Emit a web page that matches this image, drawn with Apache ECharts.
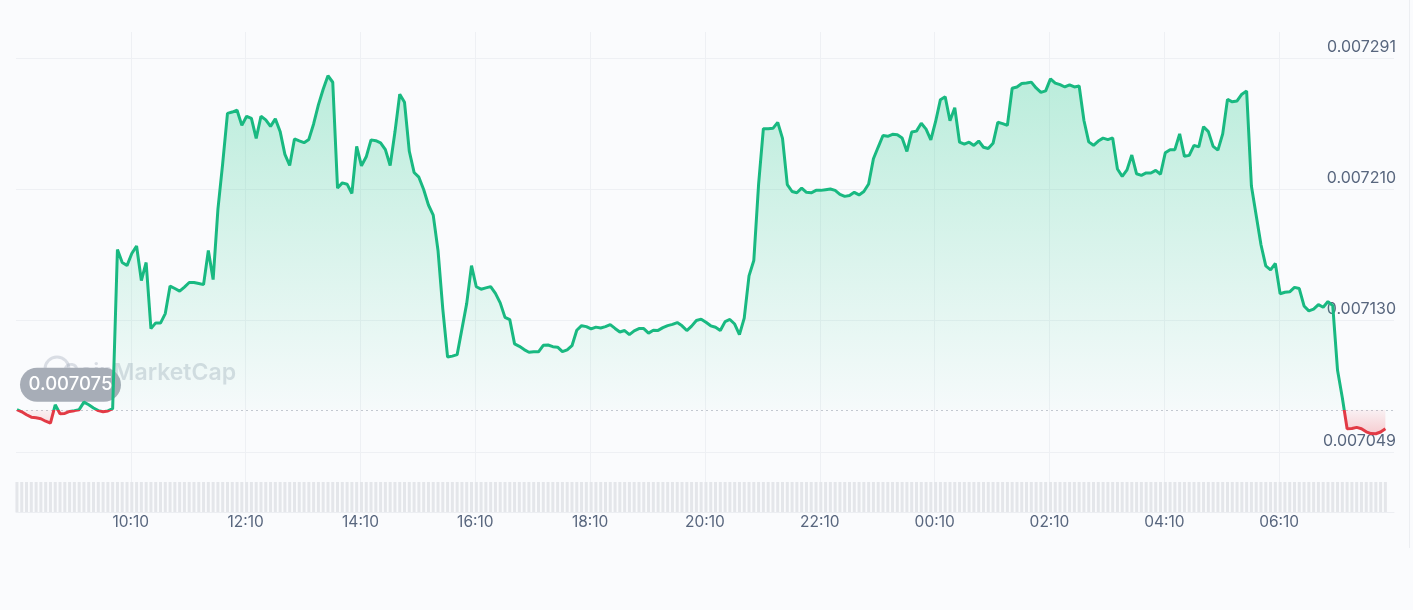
<!DOCTYPE html>
<html><head><meta charset="utf-8">
<script src="https://cdn.jsdelivr.net/npm/echarts@6/dist/echarts.min.js"></script>
<style>html,body{margin:0;padding:0;background:#fafbfd;}#c{width:1413px;height:610px;}</style>
</head><body><div id="c"></div>
<script>
// x tick labels: one every 120 minutes starting 08:10
const timeLabels = ['08:10','10:10','12:10','14:10','16:10','18:10','20:10','22:10','00:10','02:10','04:10','06:10','08:10'];
// y tick labels (right axis)
const priceTicks = ['0.007049','0.007130','0.007210','0.007291'];
// opening price (baseline)
const openPrice = 0.007075;
// sampling: minutes after 08:10, 5-minute steps
const startMinute = 1;
const stepMinutes = 5;
const prices = [
0.0070750,0.0070737,0.0070719,0.0070704,0.0070700,0.0070694,0.0070679,0.0070667,0.0070780,0.0070725,
0.0070727,0.0070739,0.0070744,0.0070750,0.0070796,0.0070780,0.0070760,0.0070744,0.0070737,0.0070742,
0.0070756,0.0071734,0.0071654,0.0071635,0.0071709,0.0071755,0.0071543,0.0071654,0.0071248,0.0071283,
0.0071282,0.0071340,0.0071509,0.0071494,0.0071478,0.0071503,0.0071531,0.0071531,0.0071525,0.0071518,
0.0071728,0.0071549,0.0071980,0.0072263,0.0072570,0.0072578,0.0072589,0.0072496,0.0072552,0.0072539,
0.0072416,0.0072552,0.0072530,0.0072490,0.0072536,0.0072459,0.0072318,0.0072250,0.0072413,0.0072401,
0.0072390,0.0072410,0.0072505,0.0072622,0.0072718,0.0072801,0.0072761,0.0072111,0.0072143,0.0072135,
0.0072078,0.0072367,0.0072248,0.0072303,0.0072407,0.0072402,0.0072389,0.0072347,0.0072250,0.0072455,
0.0072687,0.0072638,0.0072337,0.0072207,0.0072178,0.0072102,0.0072007,0.0071945,0.0071728,0.0071368,
0.0071073,0.0071079,0.0071088,0.0071246,0.0071403,0.0071635,0.0071505,0.0071490,0.0071498,0.0071506,
0.0071464,0.0071406,0.0071317,0.0071303,0.0071154,0.0071139,0.0071119,0.0071103,0.0071106,0.0071105,
0.0071145,0.0071147,0.0071137,0.0071134,0.0071106,0.0071117,0.0071143,0.0071238,0.0071266,0.0071260,
0.0071246,0.0071257,0.0071252,0.0071260,0.0071272,0.0071249,0.0071227,0.0071236,0.0071211,0.0071234,
0.0071248,0.0071248,0.0071220,0.0071238,0.0071237,0.0071254,0.0071266,0.0071274,0.0071285,0.0071265,
0.0071236,0.0071263,0.0071298,0.0071306,0.0071287,0.0071265,0.0071256,0.0071236,0.0071291,0.0071304,
0.0071276,0.0071211,0.0071312,0.0071572,0.0071666,0.0072134,0.0072476,0.0072476,0.0072478,0.0072515,
0.0072416,0.0072132,0.0072090,0.0072082,0.0072111,0.0072085,0.0072082,0.0072097,0.0072097,0.0072101,
0.0072105,0.0072097,0.0072072,0.0072060,0.0072065,0.0072085,0.0072069,0.0072090,0.0072136,0.0072291,
0.0072363,0.0072434,0.0072429,0.0072441,0.0072439,0.0072419,0.0072336,0.0072455,0.0072461,0.0072509,
0.0072473,0.0072407,0.0072520,0.0072654,0.0072672,0.0072525,0.0072604,0.0072393,0.0072381,0.0072393,
0.0072373,0.0072400,0.0072362,0.0072354,0.0072386,0.0072515,0.0072507,0.0072496,0.0072724,0.0072732,
0.0072753,0.0072756,0.0072762,0.0072726,0.0072699,0.0072708,0.0072782,0.0072756,0.0072746,0.0072732,
0.0072745,0.0072732,0.0072738,0.0072526,0.0072395,0.0072374,0.0072400,0.0072418,0.0072409,0.0072419,
0.0072228,0.0072183,0.0072223,0.0072314,0.0072199,0.0072189,0.0072204,0.0072204,0.0072220,0.0072196,
0.0072328,0.0072347,0.0072347,0.0072444,0.0072306,0.0072312,0.0072373,0.0072364,0.0072488,0.0072458,
0.0072367,0.0072344,0.0072444,0.0072656,0.0072641,0.0072646,0.0072688,0.0072707,0.0072124,0.0071942,
0.0071763,0.0071633,0.0071609,0.0071648,0.0071462,0.0071471,0.0071474,0.0071501,0.0071494,0.0071387,
0.0071357,0.0071368,0.0071395,0.0071379,0.0071414,0.0071389,0.0070992,0.0070823,0.0070633,0.0070634,
0.0070641,0.0070633,0.0070614,0.0070603,0.0070602,0.0070613,0.0070633
];
// volume strip (all bars drawn at full height in the picture)
const volumes = [
1,1,1,1,1,1,1,1,1,1,1,1,1,1,1,1,1,1,1,1,1,1,1,1,1,1,1,1,1,1,1,1,1,1,1,1,1,1,1,1,
1,1,1,1,1,1,1,1,1,1,1,1,1,1,1,1,1,1,1,1,1,1,1,1,1,1,1,1,1,1,1,1,1,1,1,1,1,1,1,1,
1,1,1,1,1,1,1,1,1,1,1,1,1,1,1,1,1,1,1,1,1,1,1,1,1,1,1,1,1,1,1,1,1,1,1,1,1,1,1,1,
1,1,1,1,1,1,1,1,1,1,1,1,1,1,1,1,1,1,1,1,1,1,1,1,1,1,1,1,1,1,1,1,1,1,1,1,1,1,1,1,
1,1,1,1,1,1,1,1,1,1,1,1,1,1,1,1,1,1,1,1,1,1,1,1,1,1,1,1,1,1,1,1,1,1,1,1,1,1,1,1,
1,1,1,1,1,1,1,1,1,1,1,1,1,1,1,1,1,1,1,1,1,1,1,1,1,1,1,1,1,1,1,1,1,1,1,1,1,1,1,1,
1,1,1,1,1,1,1,1,1,1,1,1,1,1,1,1,1,1,1,1,1,1,1,1,1,1,1,1,1,1,1,1,1,1,1,1,1,1,1,1,
1,1,1,1,1,1,1
];

const GREEN = '#19b981', RED = '#e23a45';
const priceData = prices.map((p, i) => [startMinute + i * stepMinutes, p]);
const volData = volumes.map((v, i) => [startMinute + i * stepMinutes, v]);
const yMin = +priceTicks[0], yMax = +priceTicks[priceTicks.length - 1];
const nearestTick = v => priceTicks.reduce((a, b) => Math.abs(+b - v) < Math.abs(+a - v) ? b : a);

const chart = echarts.init(document.getElementById('c'), null, {renderer: 'canvas'});
const option = {
  backgroundColor: '#fafbfd',
  animation: false,
  grid: [
    {left: 16, right: 19, top: 58, bottom: 158},
    {left: 16, right: 19, top: 32, bottom: 98}
  ],
  xAxis: [
    {type: 'value', gridIndex: 0, min: 0, max: 1440, show: false},
    {type: 'value', gridIndex: 1, min: 0, max: 1440, interval: 120,
     axisLine: {show: true, lineStyle: {color: '#eceef2'}},
     axisTick: {show: false},
     splitLine: {show: true, showMinLine: false, showMaxLine: false, lineStyle: {color: '#eef0f4'}},
     axisLabel: {color: '#58667e', fontSize: 15.5, fontFamily: 'Inter', margin: 2,
       showMinLabel: false, showMaxLabel: false,
       formatter: v => timeLabels[Math.round(v / 120)]}}
  ],
  yAxis: [
    {type: 'value', gridIndex: 0, position: 'right', min: yMin, max: yMax, interval: (yMax - yMin) / 3,
     axisLine: {show: false}, axisTick: {show: false},
     splitLine: {show: true, lineStyle: {color: '#eef0f4'}},
     axisLabel: {inside: true, margin: -2, verticalAlign: 'bottom', padding: [0, 0, 3, 0],
       color: '#58667e', fontSize: 16, fontFamily: 'Inter', formatter: v => nearestTick(v)}},
    {type: 'value', gridIndex: 1, min: 0, max: 16, show: false}
  ],
  series: [
    {type: 'line', xAxisIndex: 0, yAxisIndex: 0, data: priceData, symbol: 'none', showSymbol: false,
     lineStyle: {width: 3, color: GREEN}, z: 3,
     areaStyle: {origin: openPrice, color: 'rgba(22,199,132,0.15)'}},
    {type: 'bar', xAxisIndex: 1, yAxisIndex: 1, data: volData, barWidth: 3,
     itemStyle: {color: '#e4e6ea'}, z: 1, silent: true}
  ]
};
chart.setOption(option);

const yBase = chart.convertToPixel({yAxisIndex: 0}, openPrice);
const yHigh = chart.convertToPixel({yAxisIndex: 0}, Math.max(...prices));
const yLow = chart.convertToPixel({yAxisIndex: 0}, Math.min(...prices));
const off = (yBase - yHigh) / (yLow - yHigh);
const xLeft = chart.convertToPixel({xAxisIndex: 0}, 0);
const xRight = chart.convertToPixel({xAxisIndex: 0}, 1440);

chart.setOption({
  series: [{
    lineStyle: {width: 3, color: {
      type: 'linear', x: 0, y: yHigh, x2: 0, y2: yLow, global: true,
      colorStops: [
        {offset: 0, color: GREEN}, {offset: off, color: GREEN},
        {offset: off, color: RED}, {offset: 1, color: RED}
      ]}},
    areaStyle: {origin: openPrice, opacity: 1, color: {
      type: 'linear', x: 0, y: yHigh, x2: 0, y2: yLow, global: true,
      colorStops: [
        {offset: 0, color: 'rgba(22,199,132,0.28)'},
        {offset: off, color: 'rgba(22,199,132,0.02)'},
        {offset: off, color: 'rgba(234,57,67,0.05)'},
        {offset: 1, color: 'rgba(234,57,67,0.24)'}
      ]}}
  }],
  graphic: [
    {type: 'line', z: 2, silent: true, shape: {x1: xLeft, y1: Math.round(yBase) + 0.5, x2: xRight, y2: Math.round(yBase) + 0.5},
     style: {stroke: '#c3c8d0', lineWidth: 1, lineDash: [2, 3]}},
    {type: 'circle', z: 1, silent: true, shape: {cx: 57, cy: 369, r: 12},
     style: {fill: 'none', stroke: 'rgba(150,160,176,0.32)', lineWidth: 3}},
    {type: 'text', z: 1, silent: true,
     style: {text: 'CoinMarketCap', x: 236, y: 373, align: 'right', verticalAlign: 'middle',
       font: '600 23px Inter', fill: 'rgba(150,160,176,0.32)'}},
    {type: 'rect', z: 1, silent: true, shape: {x: 20, y: yBase - 42, width: 101, height: 34, r: 17},
     style: {fill: '#a7adb7'}},
    {type: 'text', z: 1, silent: true,
     style: {text: openPrice.toFixed(6), x: 70.5, y: yBase - 25, align: 'center', verticalAlign: 'middle',
       font: '500 18.5px Inter', fill: '#ffffff'}},
    {type: 'line', z: 1, silent: true, shape: {x1: 1409.5, y1: 0, x2: 1409.5, y2: 548},
     style: {stroke: '#eceef2', lineWidth: 1}}
  ]
});
</script>
</body></html>
